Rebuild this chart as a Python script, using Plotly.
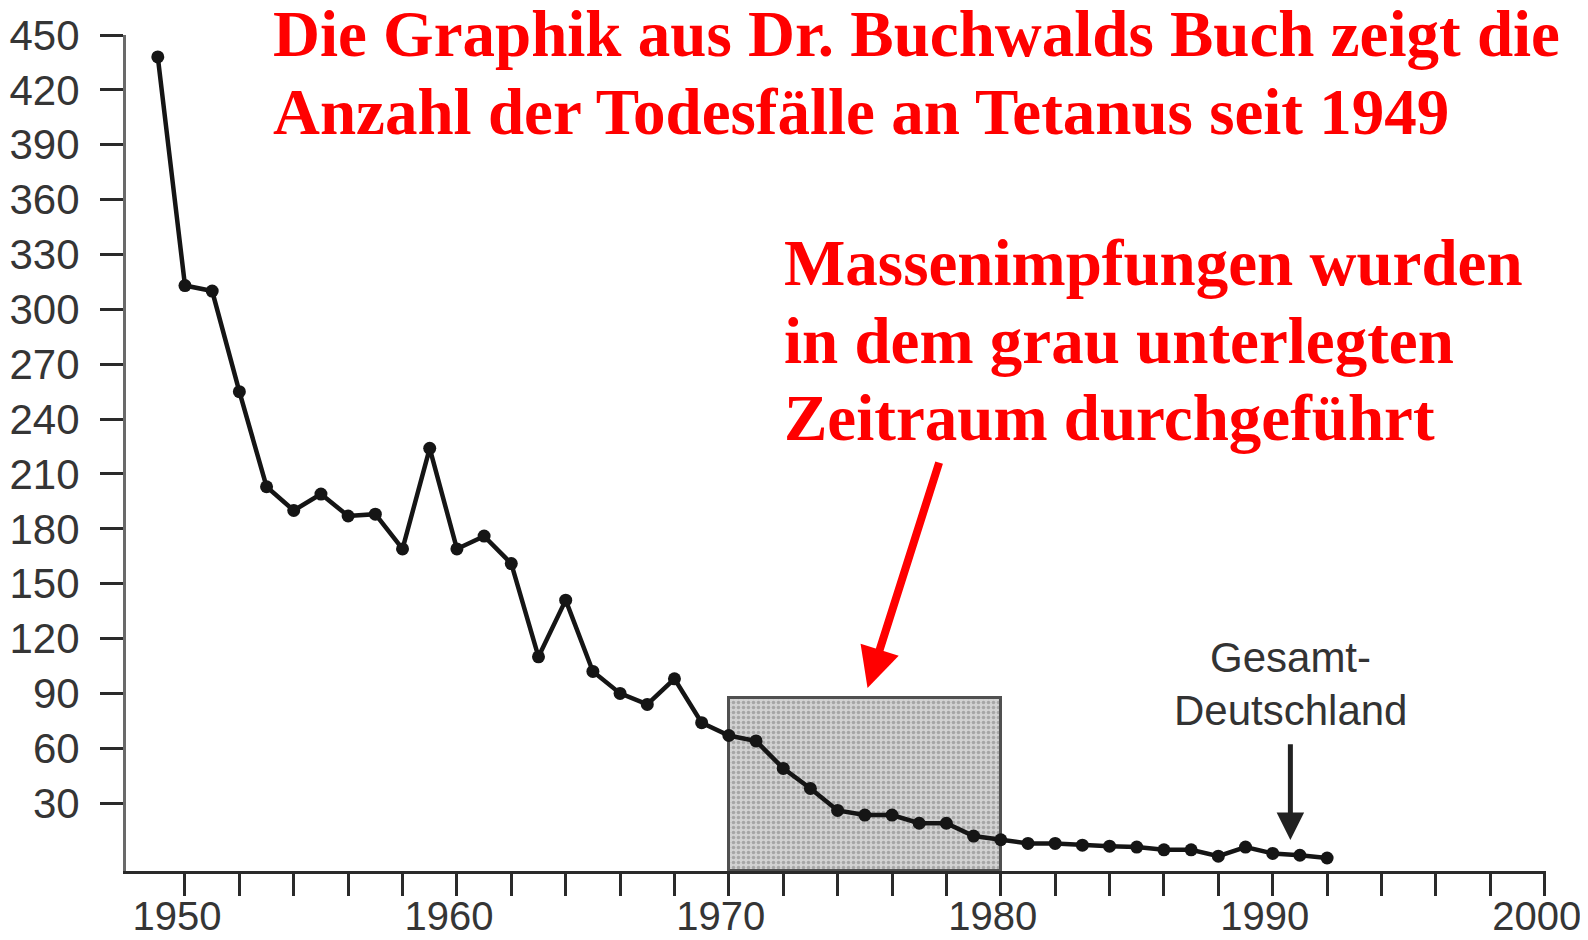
import plotly.graph_objects as go

years = list(range(1949, 1993))
deaths = [438, 313, 310, 255, 203, 190, 199, 187, 188, 169,
          224, 169, 176, 161, 110, 141, 102, 90, 84, 98,
          74, 67, 64, 49, 38, 26, 23.5, 23.5, 19, 19,
          12, 10, 8, 8, 7, 6.5, 6, 4.5, 4.5, 1,
          6, 2.5, 1.5, 0]

y_ticks = [30, 60, 90, 120, 150, 180, 210, 240, 270, 300, 330, 360, 390, 420, 450]
x_ticks = [1950, 1960, 1970, 1980, 1990, 2000]
x_minor_ticks = [1952, 1954, 1956, 1958, 1962, 1964, 1966, 1968,
                 1972, 1974, 1976, 1978, 1982, 1984, 1986, 1988,
                 1992, 1994, 1996, 1998]

campaign_start, campaign_end, campaign_top = 1970, 1980, 87.5

title_lines = ["Die Graphik aus Dr. Buchwalds Buch zeigt die",
               "Anzahl der Todesfälle an Tetanus seit 1949"]
note_lines = ["Massenimpfungen wurden",
              "in dem grau unterlegten",
              "Zeitraum durchgeführt"]
unif_lines = ["Gesamt-", "Deutschland"]

# the page body adds an 8 px margin, so the figure is 8 px smaller
OFF = 8
W, H = 1588 - OFF, 940 - OFF
L, R, T, B = 126 - OFF, 41.6, 35 - OFF, 69
PW, PH = W - L - R, H - T - B
Y_MIN = -7.1
X_RANGE = [1947.831, 2000.05]


def px(xp):
    return (xp - OFF - L) / PW


def py(yp):
    return 1 - (yp - OFF - T) / PH


fig = go.Figure()

# shaded mass-vaccination period (stippled grey box)
fig.add_trace(go.Bar(
    x=[(campaign_start + campaign_end) / 2], y=[campaign_top - Y_MIN], base=[Y_MIN],
    width=[campaign_end - campaign_start],
    marker=dict(color="#cfcfcf", line=dict(color="#505050", width=3),
                pattern=dict(shape=".", size=5, solidity=0.4,
                             fgcolor="#7a7a7a", bgcolor="#d2d2d2")),
    showlegend=False, hoverinfo="skip"))

fig.add_trace(go.Scatter(
    x=years, y=deaths, mode="lines+markers",
    line=dict(color="#151515", width=4.5),
    marker=dict(color="#151515", size=13),
    showlegend=False, hoverinfo="x+y"))

y_tick_font = dict(family="Liberation Sans, Arial", size=42, color="#353535")
x_tick_font = dict(family="Liberation Sans, Arial", size=40, color="#353535")

fig.update_xaxes(range=X_RANGE, tickvals=x_ticks, ticks="outside",
                 ticklen=22, tickwidth=3, tickcolor="#2a2a2a",
                 showline=True, linecolor="#2a2a2a", linewidth=3,
                 showgrid=False, zeroline=False, tickfont=x_tick_font,
                 automargin=False, ticklabelstandoff=-14, ticklabelshift=-8,
                 ticklabeloverflow="allow",
                 minor=dict(tickmode="array", tickvals=x_minor_ticks,
                            ticks="outside", ticklen=22, tickwidth=3,
                            tickcolor="#2a2a2a", showgrid=False))
fig.update_yaxes(range=[Y_MIN, 450], tickvals=y_ticks, ticks="outside",
                 ticklen=23, tickwidth=3, tickcolor="#2a2a2a",
                 showline=True, linecolor="#6a6a6a", linewidth=3,
                 showgrid=False, zeroline=False, tickfont=y_tick_font,
                 automargin=False, ticklabelstandoff=12)

annotations = []
red_font = dict(family="Liberation Serif, Times New Roman", size=65, color="#ff0000")
for i, t in enumerate(title_lines):
    annotations.append(dict(text="<b>%s</b>" % t, xref="paper", yref="paper",
                            x=px(272), y=py(34 + 78 * i), xanchor="left",
                            yanchor="middle", showarrow=False, font=red_font,
                            borderpad=0))
for i, t in enumerate(note_lines):
    annotations.append(dict(text="<b>%s</b>" % t, xref="paper", yref="paper",
                            x=px(783), y=py(263.4 + 77.5 * i), xanchor="left",
                            yanchor="middle", showarrow=False, font=red_font,
                            borderpad=0))
gray_font = dict(family="Liberation Sans, Arial", size=42, color="#333333")
for i, t in enumerate(unif_lines):
    annotations.append(dict(text=t, xref="paper", yref="paper",
                            x=px(1291), y=py(657 + 53 * i), xanchor="center",
                            yanchor="middle", showarrow=False, font=gray_font))

# red arrow to the shaded period
annotations.append(dict(x=1975.1, y=93, ax=1977.75, ay=217, xref="x", yref="y",
                        axref="x", ayref="y", showarrow=True, text="",
                        arrowhead=2, arrowsize=1.0, arrowwidth=8,
                        arrowcolor="#ff0000"))
# black arrow to unification
annotations.append(dict(x=1990.65, y=9.8, ax=1990.65, ay=63, xref="x", yref="y",
                        axref="x", ayref="y", showarrow=True, text="",
                        arrowhead=2, arrowsize=1.1, arrowwidth=5,
                        arrowcolor="#222222"))

fig.update_layout(width=W, height=H, margin=dict(l=L, r=R, t=T, b=B, autoexpand=False),
                  plot_bgcolor="white", paper_bgcolor="white",
                  annotations=annotations, showlegend=False, bargap=0)

fig.write_html("out.html")
